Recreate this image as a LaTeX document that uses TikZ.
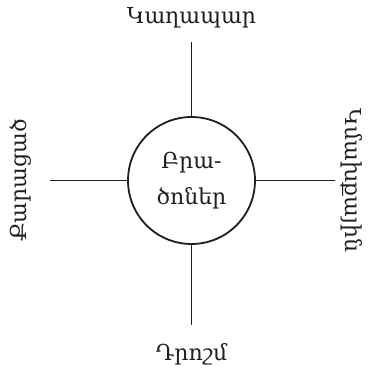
\documentclass[tikz,border=0pt]{standalone}
\usepackage{fontspec}
\setmainfont{DejaVu Serif}
\begin{document}
\begin{tikzpicture}[x=1pt,y=1pt,
  lbl/.style={font=\fontsize{22}{26}\selectfont, text=black!88, inner sep=0pt},
  conn/.style={line width=1.8pt, draw=black!88}]
\useasboundingbox (0,0) rectangle (373,375);
\node[circle, minimum size=127pt, inner sep=0pt, draw=black!88, line width=1.8pt,
      font=\fontsize{22}{36}\selectfont, text=black!88, align=center] (c) at (191.5,194.5) {Բրա-\\ծոներ};
\coordinate (t) at (191.5,333);
\coordinate (b) at (191.5,50);
\coordinate (l) at (50,194.5);
\coordinate (r) at (335,194.5);
\draw[conn] (c.north) -- (t);
\draw[conn] (c.south) -- (b);
\draw[conn] (c.west) -- (l);
\draw[conn] (c.east) -- (r);
\node[lbl] (tl) at (191.5,357) {Կաղապար};
\node[lbl] (bl) at (191.5,21) {Դրոշմ};
\node[lbl, rotate=90] (ll) at (20,194.5) {Քարացած};
\node[lbl, rotate=-90] (rl) at (352,194.5) {Կմախքային};
\end{tikzpicture}
\end{document}
